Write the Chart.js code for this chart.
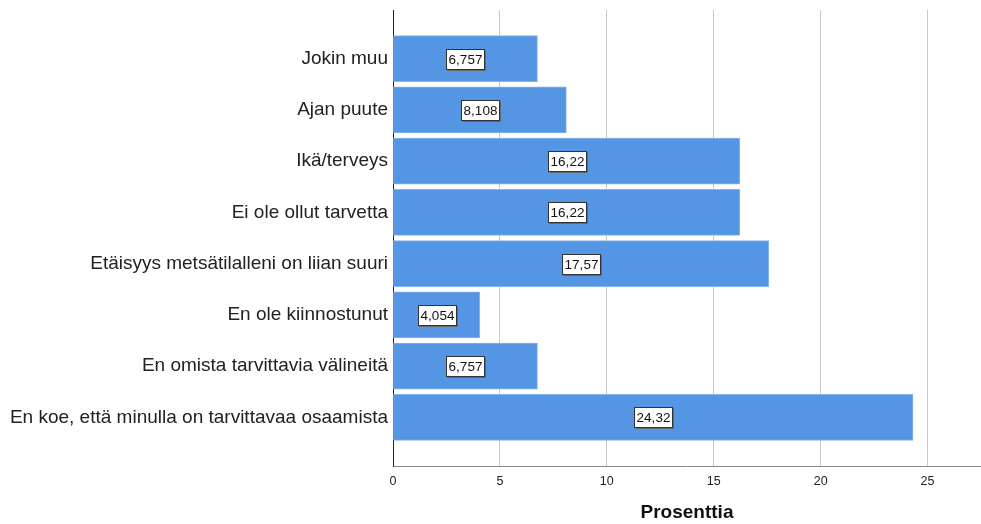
<!DOCTYPE html>
<html>
<head>
<meta charset="utf-8">
<script src="https://cdn.jsdelivr.net/npm/chart.js@4"></script>
<style>
  html, body { margin: 0; padding: 0; background: #fff; }
  #wrap { width: 981px; height: 524px; }
</style>
</head>
<body>
<div id="wrap"><canvas id="chart" width="981" height="524"></canvas></div>
<script>
// Reasons, top to bottom, and their shares in percent
const categories = [
    'Jokin muu',
    'Ajan puute',
    'Ikä/terveys',
    'Ei ole ollut tarvetta',
    'Etäisyys metsätilalleni on liian suuri',
    'En ole kiinnostunut',
    'En omista tarvittavia välineitä',
    'En koe, että minulla on tarvittavaa osaamista'
];
const percents = [6.757, 8.108, 16.22, 16.22, 17.57, 4.054, 6.757, 24.32];
const xTicks = [0, 5, 10, 15, 20, 25];

const FONT = '"Liberation Sans", Arial, sans-serif';

// white boxed value label in the middle of each bar
const valueBoxes = {
    id: 'valueBoxes',
    afterDatasetsDraw(chart) {
        const ctx = chart.ctx;
        const meta = chart.getDatasetMeta(0);
        ctx.save();
        ctx.font = '13.5px ' + FONT;
        ctx.textAlign = 'center';
        ctx.textBaseline = 'middle';
        meta.data.forEach((bar, i) => {
            const text = String(percents[i]).replace('.', ',');
            const cx = Math.round((bar.base + bar.x) / 2);
            const cy = Math.round(bar.y);
            const w = Math.round(ctx.measureText(text).width) + 4;
            const h = 20;
            const x0 = cx - Math.round(w / 2) + 0.5;
            const y0 = cy - Math.round(h / 2) + 0.5;
            ctx.fillStyle = '#ffffff';
            ctx.fillRect(x0, y0, w, h);
            ctx.strokeStyle = '#333333';
            ctx.lineWidth = 1;
            ctx.strokeRect(x0, y0, w, h);
            // slight shade on the lower right edge
            ctx.strokeStyle = '#666666';
            ctx.beginPath();
            ctx.moveTo(x0 + w + 1, y0 + 1);
            ctx.lineTo(x0 + w + 1, y0 + h + 1);
            ctx.lineTo(x0 + 1, y0 + h + 1);
            ctx.stroke();
            ctx.fillStyle = '#111111';
            ctx.fillText(text, cx + 0.5, cy + 1);
        });
        ctx.restore();
    }
};

new Chart(document.getElementById('chart'), {
    type: 'bar',
    data: {
        datasets: [{
            data: percents.map((v, i) => ({ x: v, y: i })),
            backgroundColor: '#5596e4',
            borderColor: '#86b5ee',
            borderWidth: 1,
            borderSkipped: false,
            barThickness: 46
        }]
    },
    options: {
        indexAxis: 'y',
        responsive: false,
        animation: false,
        devicePixelRatio: 1,
        layout: { padding: { top: 10, right: 0, left: 0, bottom: 0 } },
        plugins: {
            legend: { display: false },
            tooltip: { enabled: false }
        },
        scales: {
            x: {
                type: 'linear',
                min: 0,
                max: 27.5,
                afterFit: s => {
                    s.height = 58;
                    s.paddingLeft = 0;
                    s.paddingRight = 0;
                },
                afterBuildTicks: s => {
                    s.ticks = xTicks.map(v => ({ value: v })).concat([{ value: 27.5 }]);
                },
                ticks: {
                    padding: 8,
                    color: '#222',
                    font: { family: FONT, size: 12.5 },
                    maxRotation: 0,
                    callback: v => xTicks.includes(v) ? String(v) : ''
                },
                grid: {
                    drawTicks: false,
                    color: c => (c.tick && c.tick.value > 0 && c.tick.value <= 25) ? '#c8c8c8' : 'rgba(0,0,0,0)',
                    lineWidth: 1
                },
                border: { display: true, color: '#8a8a8a', width: 1 },
                title: {
                    display: true,
                    text: 'Prosenttia',
                    color: '#111',
                    font: { family: FONT, size: 19, weight: 'bold' },
                    padding: { top: 0, bottom: 0 }
                }
            },
            y: {
                type: 'linear',
                reverse: true,
                offset: false,
                min: -0.95,
                max: 7.95,
                afterFit: s => {
                    s.width = 393;
                    s.paddingTop = 0;
                    s.paddingBottom = 0;
                },
                afterBuildTicks: s => {
                    s.ticks = categories.map((c, i) => ({ value: i }));
                },
                ticks: {
                    padding: 5,
                    color: '#222',
                    font: { family: FONT, size: 19 },
                    callback: v => categories[v]
                },
                grid: { display: false, drawTicks: false, offset: false },
                border: { display: true, color: '#222', width: 1 }
            }
        }
    },
    plugins: [valueBoxes]
});
</script>
</body>
</html>
